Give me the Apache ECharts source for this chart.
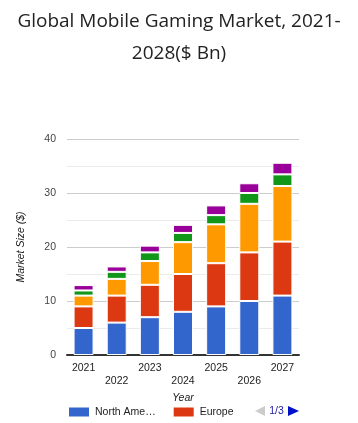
<!DOCTYPE html>
<html>
<head>
<meta charset="utf-8">
<script src="https://cdn.jsdelivr.net/npm/echarts@6/dist/echarts.min.js"></script>
<style>
html,body{margin:0;padding:0;background:#fff;}
#chart{width:358px;height:423px;}
</style>
</head>
<body>
<div id="chart"></div>
<script>
const titleText = 'Global Mobile Gaming Market, 2021-\n2028($ Bn)';
const years = ['2021', '2022', '2023', '2024', '2025', '2026', '2027'];
const seriesNames = ['North America', 'Europe', 'Asia Pacific', 'Latin America', 'Middle East & Africa'];
const northAmerica = [5, 6, 7, 8, 9, 10, 11];
const europe = [4, 5, 6, 7, 8, 9, 10];
const asiaPacific = [2, 3.1, 4.4, 5.9, 7.2, 9, 10.3];
const latinAmerica = [0.95, 1.3, 1.6, 1.7, 1.7, 2, 2.15];
const middleEastAfrica = [1, 1.0, 1.25, 1.5, 1.8, 1.8, 2.15];
const yTicks = [0, 10, 20, 30, 40];
const legendPerPage = 2;

const colors = ['#3366cc', '#dc3912', '#ff9900', '#109618', '#990099'];
const values = [northAmerica, europe, asiaPacific, latinAmerica, middleEastAfrica];
const font = '"Liberation Sans", Arial, sans-serif';
const fs = 10.5;
const pageCount = Math.ceil(seriesNames.length / legendPerPage);

const chart = echarts.init(document.getElementById('chart'));
chart.setOption({
  animation: false,
  color: colors,
  title: {
    text: titleText,
    left: 'center',
    top: 1,
    textStyle: {
      fontFamily: '"Open Sans", sans-serif',
      fontWeight: 500,
      fontSize: 19,
      lineHeight: 32,
      color: '#222'
    }
  },
  legend: {
    left: 67,
    top: 405.5,
    padding: 0,
    itemWidth: 22,
    itemHeight: 11,
    itemGap: 16,
    icon: 'rect',
    formatter: function (name) { return name.length > 9 ? name.slice(0, 9) + '…' : name; },
    textStyle: { fontFamily: font, fontSize: fs, color: '#222' },
    data: seriesNames.slice(0, legendPerPage)
  },
  graphic: [
    {
      type: 'polygon',
      shape: { points: [[255, 411], [265, 406], [265, 416]] },
      style: { fill: '#cccccc' },
      silent: true
    },
    {
      type: 'text',
      x: 276.5,
      y: 411,
      style: {
        text: '1/' + pageCount,
        fontFamily: font,
        fontSize: fs,
        fill: '#1a1aa6',
        align: 'center',
        verticalAlign: 'middle'
      },
      silent: true
    },
    {
      type: 'polygon',
      shape: { points: [[288, 406], [299, 411], [288, 416]] },
      style: { fill: '#0011cc' },
      silent: true
    }
  ],
  grid: { left: 67, right: 59, top: 139, bottom: 68 },
  xAxis: {
    type: 'category',
    data: years,
    name: 'Year',
    nameLocation: 'middle',
    nameGap: 30,
    nameTextStyle: { fontFamily: font, fontSize: fs, fontStyle: 'italic', color: '#222' },
    axisLine: { lineStyle: { color: '#333', width: 2 } },
    axisTick: { show: false },
    axisLabel: {
      interval: 0,
      margin: 7,
      fontFamily: font,
      fontSize: fs,
      lineHeight: 13,
      color: '#222',
      formatter: function (v, i) { return i % 2 ? '\n' + v : v; }
    }
  },
  yAxis: {
    type: 'value',
    min: yTicks[0],
    max: yTicks[yTicks.length - 1],
    interval: 10,
    name: 'Market Size ($)',
    nameLocation: 'middle',
    nameGap: 40,
    nameTextStyle: { fontFamily: font, fontSize: fs, fontStyle: 'italic', color: '#222' },
    axisLine: { show: false },
    axisTick: { show: false },
    minorTick: { show: false, splitNumber: 2 },
    splitLine: { lineStyle: { color: '#cccccc' } },
    minorSplitLine: { show: true, lineStyle: { color: '#ebebeb' } },
    axisLabel: { margin: 11, fontFamily: font, fontSize: fs, color: '#444' }
  },
  series: seriesNames.map(function (n, k) {
    return {
      name: n,
      type: 'bar',
      stack: 'total',
      barWidth: 20,
      itemStyle: { borderColor: '#fff', borderWidth: 1 },
      data: values[k]
    };
  })
});
</script>
</body>
</html>
